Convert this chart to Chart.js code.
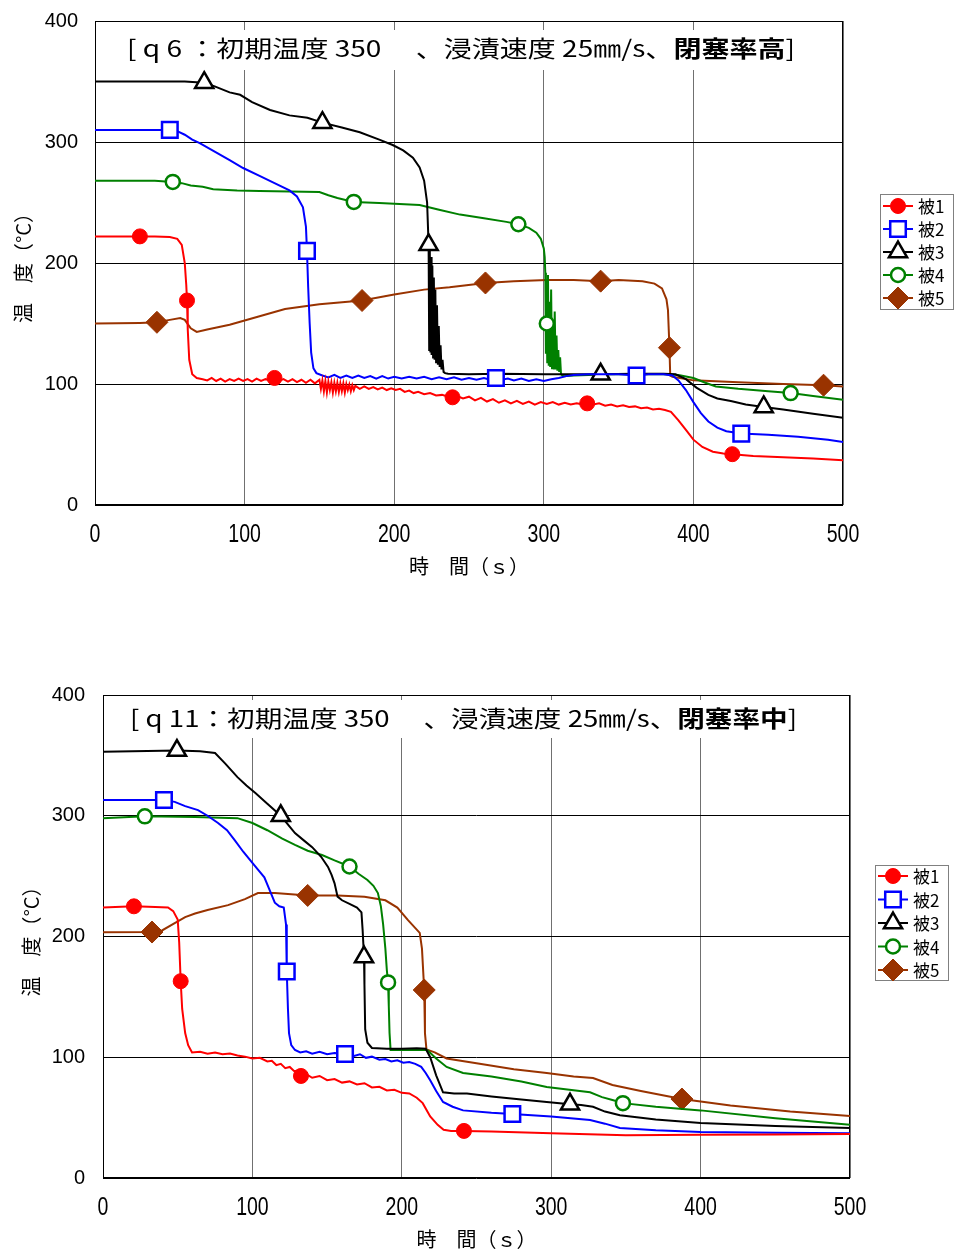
<!DOCTYPE html>
<html>
<head>
<meta charset="utf-8">
<title>被覆管温度の時間変化</title>
<script src="https://cdn.jsdelivr.net/npm/chart.js@4.4.1/dist/chart.umd.min.js"></script>
<style>
  html, body { margin: 0; padding: 0; background: #fff; }
  #page { position: relative; width: 958px; height: 1255px; background: #fff; }
  .panel { position: absolute; left: 0; width: 958px; }
  canvas { display: block; }
</style>
</head>
<body>
<div id="page">
  <div class="panel" style="top:0;height:585px"><canvas id="q6" width="958" height="585"></canvas></div>
  <div class="panel" style="top:620px;height:635px"><canvas id="q11" width="958" height="635"></canvas></div>
</div>
<script>
// ---- axis ticks and labels ----
const timeTicks = [0, 100, 200, 300, 400, 500];
const tempTicks = [0, 100, 200, 300, 400];
const sensorLabels = ['被1', '被2', '被3', '被4', '被5'];
const timeTitle = '時　間（ｓ）';
const tempTitle = '温　度（°C）';

// ---- captions ----
const q6Caption = [['[ q 6 ：初期温度 350 　、浸漬速度 25㎜/s、', false], ['閉塞率高', true], [']', false]];
const q11Caption = [['[ q 11：初期温度 350 　、浸漬速度 25㎜/s、', false], ['閉塞率中', true], [']', false]];

// ---- q6 : [time s, temperature °C] ----
const q6Sensor1 = [[0,222],[30,222],[40,222],[50,221.5],[55,220],[58,215],[60,200],[61,182],[61.5,169],[62,145],[63,120],[65,108],[68,105],[72,104],
  [75,103],[78,105],[81,102.5],[84,104.5],[87,102],[90,104],[93,102.5],[96,104.5],[99,102.5],[102,104],[105,102],[108,104.5],[111,102.5],[114,104],[117,103],[120,105],
  [123,102.5],[126,104],[129,102],[132,104],[135,101.5],[138,103.5],[141,101],[144,103.5],[147,100.5],[150,103.5],[151,96],[152,103],[153,94],[154,102.5],
  [155,93],[156,102],[157,95],[158,101.5],[159,93],[160,101],[161,94],[162,101],[163,93.5],[164,100.5],[165,94],[166,100.5],[167,93],[168,100],[169,95],
  [170,99.5],[171,94],[172,99],[173,95],[174,98.5],[177,96],[180,98],
  [183,96],[186,97.5],[189,95.5],[192,97],[195,95],[198,96.5],[201,95],[204,96],[207,93.5],[210,94.5],[213,92.5],[216,93.5],[220,91.5],[224,92.5],[228,90.5],
  [232,91],[236,89.5],[239,89],[242,90],[246,88],[250,89.5],[254,86.5],[258,88.5],[262,85.5],[266,87.5],[270,84.5],[274,86.5],[278,84],[282,86],[286,83.5],
  [290,85.5],[294,83],[298,85],[302,83.5],[306,85],[310,83],[314,84.5],[318,83],[322,84],[326,83],[329,84],[333,83],[337,84],[341,82],[345,83],[349,81.5],
  [353,82.5],[357,81],[361,81.5],[365,80],[369,80.5],[373,79],[377,79.5],[381,78.5],[385,77],[390,70],[395,62],[400,54],[406,48],[413,44],[420,42.5],[426,42],
  [440,40.5],[460,39.5],[480,38.5],[500,37]];
const q6Sensor2 = [[0,310],[40,310],[50,310],[55,309],[60,306],[65,302],[70,299],[80,292],[90,285],[99,278.5],[110,272],[120,266],[130,260],[135,255],[139,246],
  [141,230],[141.7,210],[142.5,180],[143.5,150],[144.5,126],[146,113],[148,109],[152,107],[156,105.5],[160,107.5],[164,105],[168,107],[172,105],[176,107],
  [180,105],[184,106.5],[188,104.5],[192,106.5],[196,104.5],[200,106],[205,104.5],[210,106],[215,104.5],[220,106],[225,104],[230,105.5],[235,104],[240,105.5],
  [245,103.5],[250,105],[255,103.5],[260,105],[264,103.5],[268,105],[272,103.5],[276,104.5],[280,103],[285,104.5],[290,102.5],[295,104],[300,102.5],[305,104],
  [310,105],[315,106.5],[320,107.5],[330,108],[340,108],[350,108],[362,107],[370,108],[380,108],[386,107],[390,103],[395,95],[400,85],[405,76],[410,69],
  [416,64],[422,61],[432,59],[450,58],[470,56.5],[490,54],[500,52]];
const q6Sensor3 = [[0,350],[60,350],[73,349],[80,346],[90,341],[97,339],[105,333],[117,326.5],[130,322],[142,320],[152,316],[165,312],[177,308],[190,302],
  [199,297.5],[206,293],[212.5,287],[217,279],[220,268],[222,250],[223,215],[223.4,128],[223.8,212],[224.2,126],[224.6,205],[225,124],[225.5,198],[226,122],
  [226.5,188],[227,120],[227.5,178],[228,118],[228.6,165],[229.2,116],[229.8,148],[230.4,114],[231,132],[231.6,112],[232.3,120],[233,110],[234,109],[236,108.5],
  [250,108],[270,108.5],[300,108],[320,108],[338,108],[360,108.5],[380,108.5],[388,108],[395,104],[402,97],[410,91],[416,88],[425,86],[435,83],[447,81],
  [460,79],[480,75.5],[500,72]];
const q6Sensor4 = [[0,268],[40,268],[52,267],[58,266],[64,264],[72,263],[79,261],[95,260],[110,259.5],[130,259],[150,258.7],[156,256],[162,253.7],[173,250.5],
  [190,249.5],[217,248],[230,244],[244,240],[260,237],[275,234],[283,232],[290,229],[295,225],[298,220],[300,212],[300.6,205],[301,192],[301.4,125],[301.8,185],
  [302,150],[302.3,118],[302.8,190],[303.3,115],[303.8,168],[304.3,114],[304.9,178],[305.5,113],[306.1,150],[306.7,112],[307.3,160],[307.9,112],[308.5,140],
  [309.1,111],[309.7,128],[310.3,110],[310.9,122],[311.5,108],[313,106.5],[320,107],[330,107.5],[340,108],[360,108],[380,108],[390,107.5],[400,105],[408,101],
  [415,98],[430,96],[450,94],[465,92.5],[480,90],[500,87]];
const q6Sensor5 = [[0,150],[30,150.5],[41.4,151],[50,153],[57,154.5],[60,153],[64,146],[68,143],[75,145],[90,149],[110,156],[127,162],[150,166],[178.5,169],
  [200,174],[220,178],[237,180],[261,183.5],[280,185],[302,186],[320,186],[338,185],[350,186],[366,185],[374,183],[379,179],[382,170],[383,161],[384,130],
  [384.5,107],[386,106],[400,103],[430,101.5],[460,100],[487,99],[500,98]];
const q6Marks = [[30,61.5,120,239,329,426],[50,141.7,268,362,432],[73,152,223,338,447],[52,173,283,302,465],[41.4,178.5,261,338,384,487]];

// ---- q11 : [time s, temperature °C] ----
const q11Sensor1 = [[0,224],[20.7,225],[35,224.5],[43.5,224],[47,221],[50,214],[51,195],[52,163],[53,140],[55,120],[57,110],[59.6,104],[65,104.5],[70,103],
  [75,104],[80,102.5],[85,103],[90,101.5],[95,100.5],[100,99],[105,99.5],[110,96.5],[113,97],[116,93.5],[119,94.5],[122,91],[125,92],[128,88.5],[130,89],
  [132.5,84.5],[136,86],[140,83],[145,84.5],[150,81],[155,82],[160,79],[165,80],[170,77.5],[175,78.5],[180,75],[185,75.5],[190,72.5],[195,73],[200,70.5],
  [205,70],[210,66.5],[214,62],[219,51],[224,44],[228,40],[233,39],[241.6,39],[260,38.5],[300,37],[350,35.5],[400,35.8],[450,36],[500,36.4]];
const q11Sensor2 = [[0,313],[40.8,313],[48,311.5],[55,308],[63.6,304.7],[70,300],[77,294],[83,288],[88,280],[94,270],[100,261],[104,255],[108,249],[111,240],
  [113,234],[115,228],[118,225],[121,224],[122.5,210],[123,171],[123.8,140],[124.5,120],[126,110],[128.5,106],[132,104],[136,105],[140,103],[145,104.5],
  [150,102.5],[155,103.5],[162,102.7],[168,101],[172,102.5],[176,99.5],[180,100.5],[185,98],[189,98.5],[193,96.5],[197,97.5],[201,95.5],[205,96],[209,94.5],
  [213,92],[216,87],[219,81],[223,72],[227.6,63],[234,59],[241,56],[260,54],[274,53],[300,51],[326,48],[336,45],[346,41.5],[370,39.5],[400,38],[450,37.5],[500,37]];
const q11Sensor3 = [[0,353],[49.5,354],[65,353.5],[75,352],[82,343],[90,332],[96,325],[102,318.8],[110,310],[119,300],[128.5,285.7],[135,279],[140,274],
  [146,266],[150.6,257.6],[153,251],[155,244],[157,233],[160,230],[165,227],[170,224],[173,220],[173.8,205],[174.7,183],[175,160],[175.5,123],[177,112],
  [180,107.7],[190,107],[200,107],[210,107.5],[216,107],[219,100],[223,85],[227.6,71],[235,70],[243.6,70],[260,67.5],[280,65],[297,63],[312.6,61],[320,60.5],
  [328,59],[336,55],[346,52],[370,48.5],[400,45.5],[450,43],[500,41.4]];
const q11Sensor4 = [[0,298],[28,299.5],[61.6,299],[90,298],[100,294],[110,288],[120,281],[128.5,275.8],[137,271],[146.6,267.5],[155,263],[165,258],[171,252],
  [177,246.8],[181,242],[184,236],[186,225],[187.5,210],[189,190],[190,172],[190.8,162],[191.3,142],[191.8,120],[192.5,106],[200,106],[210,106],[217,106],
  [223,99],[230,92],[241,87],[260,84],[280,80],[297,75.4],[326,71],[334,67],[341,64.6],[348,62],[370,59],[400,56],[450,49.5],[500,44]];
const q11Sensor5 = [[0,203.5],[32.8,203.7],[39.5,205],[48,211],[55,216],[61.6,219],[70,222],[83.7,226],[95,231],[103.7,236],[115,236],[137,234],[157,234],
  [175,233],[189,230],[197,224],[204,213.7],[212,203],[213.5,190],[215,155.7],[215.5,120],[216.5,106.5],[222,104],[230,99],[250,95],[275,90],[297,87],
  [315,84],[328,82.8],[341,77],[360,72],[387.5,65.4],[420,60],[460,55],[500,51.3]];
const q11Marks = [[20.7,52,132.5,241.6],[40.8,123,162,274],[49.5,119,174.7,312.6],[28,165,190.8,348],[32.8,137,215,387.5]];

// ---- drawing styles for the five sensors ----
const sensorStyles = [
  { color: '#FF0000', shape: 'circle',    fill: '#FF0000', r: 7.5, bw: 1 },
  { color: '#0000FF', shape: 'rect',      fill: '#FFFFFF', r: 11,  bw: 2.5 },
  { color: '#000000', shape: 'triangle',  fill: '#FFFFFF', r: 10.5, bw: 2.5 },
  { color: '#008000', shape: 'circle',    fill: '#FFFFFF', r: 7,   bw: 2.5 },
  { color: '#993300', shape: 'rectRot',   fill: '#993300', r: 11,  bw: 1 }
];

const CJK = '"Noto Sans CJK JP", "Noto Sans CJK SC", sans-serif';
const NUM = '"Liberation Sans", Arial, sans-serif';

// caption box, frame, time tick labels and key drawn around the plot area
const decorPlugin = {
  id: 'decor',
  beforeDatasetsDraw(chart, args, o) {
    const { ctx, chartArea: a } = chart;
    ctx.save();
    // caption backdrop and caption
    ctx.fillStyle = '#fff';
    ctx.fillRect(o.box[0], o.box[1], o.box[2], o.box[3]);
    const size = o.fontSize;
    let total = 0;
    const widths = o.caption.map(([t, bold]) => {
      ctx.font = (bold ? 'bold ' : '') + size + 'px ' + CJK;
      const w = ctx.measureText(t).width;
      total += w;
      return w;
    });
    const sx = o.textWidth / total;
    ctx.translate(o.textLeft, o.textY);
    ctx.scale(sx, 1);
    ctx.fillStyle = '#000';
    ctx.textBaseline = 'middle';
    ctx.textAlign = 'left';
    let x = 0;
    o.caption.forEach(([t, bold], i) => {
      ctx.font = (bold ? 'bold ' : '') + size + 'px ' + CJK;
      ctx.fillText(t, x, 0);
      x += widths[i];
    });
    ctx.restore();
    // plot frame
    ctx.save();
    ctx.strokeStyle = '#000';
    ctx.lineWidth = 1;
    ctx.strokeRect(Math.round(a.left) + 0.5, Math.round(a.top) + 0.5,
      Math.round(a.right - a.left) - 1, Math.round(a.bottom - a.top) - 1);
    ctx.restore();
    // condensed time tick labels under the plot
    const xs = chart.scales.x;
    ctx.save();
    ctx.fillStyle = '#000';
    ctx.font = o.tickFont + 'px ' + NUM;
    ctx.textAlign = 'center';
    ctx.textBaseline = 'middle';
    timeTicks.forEach(v => {
      ctx.save();
      ctx.translate(xs.getPixelForValue(v), a.bottom + o.tickOffset);
      ctx.scale(o.tickSqueeze, 1);
      ctx.fillText(String(v), 0, 0);
      ctx.restore();
    });
    ctx.restore();
  },
  afterDraw(chart, args, o) {
    const ctx = chart.ctx;
    const k = o.key;
    ctx.save();
    ctx.fillStyle = '#fff';
    ctx.fillRect(k.x, k.y, k.w, k.h);
    ctx.strokeStyle = '#808080';
    ctx.lineWidth = 1;
    ctx.strokeRect(k.x + 0.5, k.y + 0.5, k.w - 1, k.h - 1);
    chart.data.datasets.forEach((ds, i) => {
      const st = sensorStyles[i];
      const cy = k.firstRow + i * k.gap;
      const lx = k.x + 3;
      ctx.strokeStyle = st.color;
      ctx.lineWidth = 2;
      ctx.beginPath();
      ctx.moveTo(lx, cy);
      ctx.lineTo(lx + 30, cy);
      ctx.stroke();
      ctx.fillStyle = st.fill;
      ctx.strokeStyle = st.color;
      ctx.lineWidth = st.bw;
      Chart.helpers.drawPoint(ctx, { pointStyle: st.shape, radius: st.r, rotation: 0, borderWidth: st.bw }, lx + 15, cy);
      ctx.fillStyle = '#000';
      ctx.font = '17px ' + CJK;
      ctx.textBaseline = 'middle';
      ctx.textAlign = 'left';
      ctx.fillText(ds.label, lx + 35, cy + 1);
    });
    ctx.restore();
  }
};

function buildChart(id, series, marks, geo) {
  const datasets = series.map((pts, i) => {
    const st = sensorStyles[i];
    const mk = marks[i];
    return {
      label: sensorLabels[i],
      data: pts.map(p => ({ x: p[0], y: p[1] })),
      borderColor: st.color,
      backgroundColor: st.fill,
      borderWidth: 2,
      tension: 0,
      fill: false,
      pointStyle: st.shape,
      pointBackgroundColor: st.fill,
      pointBorderColor: st.color,
      pointBorderWidth: st.bw,
      pointRadius: c => (c.raw && mk.includes(c.raw.x)) ? st.r : 0,
      pointHoverRadius: 0
    };
  });
  return new Chart(document.getElementById(id), {
    type: 'line',
    data: { datasets },
    plugins: [decorPlugin],
    options: {
      responsive: false,
      animation: false,
      devicePixelRatio: 1,
      events: [],
      layout: { padding: { left: 0, top: geo.top, right: geo.right, bottom: 0 } },
      plugins: {
        legend: { display: false },
        tooltip: { enabled: false },
        decor: geo.decor
      },
      scales: {
        x: {
          type: 'linear', min: 0, max: 500,
          afterBuildTicks: s => { s.ticks = timeTicks.map(v => ({ value: v })); },
          afterFit: s => { s.height = geo.xH; s.paddingLeft = 0; s.paddingRight = 0; },
          ticks: { display: false },
          grid: { color: '#707070', lineWidth: 1, drawTicks: false },
          border: { display: false },
          title: { display: true, text: timeTitle, color: '#000',
                   font: { family: CJK, size: 20 }, padding: { top: 0, bottom: geo.xTitlePad } }
        },
        y: {
          type: 'linear', min: 0, max: 400,
          afterBuildTicks: s => { s.ticks = tempTicks.map(v => ({ value: v })); },
          afterFit: s => { s.width = geo.yW; s.paddingTop = 0; s.paddingBottom = 0; },
          ticks: { color: '#000', padding: geo.yTickPad, font: { family: NUM, size: 20 } },
          grid: { color: '#000', lineWidth: 1, drawTicks: false },
          border: { display: false },
          title: { display: true, text: tempTitle, color: '#000',
                   font: { family: CJK, size: 20 }, padding: { top: geo.yTitlePad, bottom: 0 } }
        }
      }
    }
  });
}

buildChart('q6', [q6Sensor1, q6Sensor2, q6Sensor3, q6Sensor4, q6Sensor5], q6Marks, {
  top: 21, right: 115, xH: 80, yW: 95, yTickPad: 17, xTitlePad: 7, yTitlePad: 11,
  decor: {
    caption: q6Caption, fontSize: 23, box: [108, 30, 720, 40], textLeft: 127, textWidth: 668, textY: 48,
    tickFont: 25, tickSqueeze: 0.78, tickOffset: 30,
    key: { x: 880, y: 194, w: 74, h: 116, firstRow: 206, gap: 23 }
  }
});

buildChart('q11', [q11Sensor1, q11Sensor2, q11Sensor3, q11Sensor4, q11Sensor5], q11Marks, {
  top: 75, right: 108, xH: 77, yW: 103, yTickPad: 18, xTitlePad: 4, yTitlePad: 19,
  decor: {
    caption: q11Caption, fontSize: 23, box: [116, 80, 712, 38], textLeft: 130, textWidth: 667, textY: 98,
    tickFont: 25, tickSqueeze: 0.78, tickOffset: 30,
    key: { x: 875, y: 245, w: 74, h: 116, firstRow: 256, gap: 23.5 }
  }
});
</script>
</body>
</html>
